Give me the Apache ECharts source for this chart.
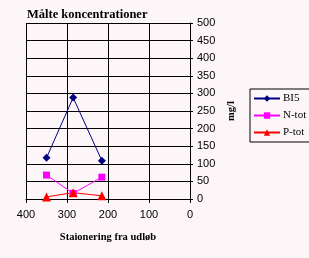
<!DOCTYPE html>
<html>
<head>
<meta charset="utf-8">
<script src="https://cdn.jsdelivr.net/npm/echarts@6/dist/echarts.min.js"></script>
<style>
  html, body { margin: 0; padding: 0; background: #fdf6f8; }
  #main { width: 309px; height: 258px; }
</style>
</head>
<body>
<div id="main"></div>
<script>
// stationering (m fra udløb) og målte værdier
var stations = [350, 285, 215];
var bi5 = [117, 288, 109];
var ntot = [68, 16, 62];
var ptot = [6, 18, 9];

function pairs(ys) {
    return stations.map(function (x, i) { return [x, ys[i]]; });
}

var myChart = echarts.init(document.getElementById('main'));

var option = {
    backgroundColor: '#fdf6f8',
    animation: false,
    title: {
        text: 'Målte koncentrationer',
        left: 22,
        top: 3,
        textStyle: {
            fontFamily: 'Liberation Serif',
            fontSize: 12.5,
            fontWeight: 'bold',
            color: '#000'
        }
    },
    grid: {
        left: 26,
        right: 119,
        top: 23,
        bottom: 59
    },
    legend: {
        orient: 'vertical',
        left: 250,
        top: 89,
        padding: [4, 20, 4, 3],
        itemGap: 6,
        itemWidth: 26,
        itemHeight: 8,
        borderColor: '#000',
        borderWidth: 1,
        borderRadius: 0,
        textStyle: {
            fontFamily: 'Liberation Serif',
            fontSize: 11,
            color: '#000',
            padding: [0, 0, 0, -2]
        },
        data: ['BI5', 'N-tot', 'P-tot']
    },
    xAxis: {
        type: 'value',
        min: 0,
        max: 400,
        interval: 100,
        inverse: true,
        name: 'Staionering fra udløb',
        nameLocation: 'middle',
        nameGap: 33,
        nameTextStyle: {
            fontFamily: 'Liberation Serif',
            fontSize: 10.5,
            fontWeight: 'bold',
            color: '#000'
        },
        axisLine: { lineStyle: { color: '#000', width: 1 } },
        axisTick: { show: true, length: 4, lineStyle: { color: '#000' } },
        axisLabel: {
            fontFamily: 'Liberation Sans',
            fontSize: 11,
            color: '#000',
            margin: 10
        },
        splitLine: { show: true, lineStyle: { color: '#000', width: 1 } }
    },
    yAxis: {
        type: 'value',
        position: 'right',
        min: 0,
        max: 500,
        interval: 50,
        name: 'mg/l',
        nameLocation: 'middle',
        nameRotate: 90,
        nameGap: 32,
        nameTextStyle: {
            fontFamily: 'Liberation Serif',
            fontSize: 10.5,
            fontWeight: 'bold',
            color: '#000',
            padding: [0, 0, 10, 0]
        },
        axisLine: { show: true, lineStyle: { color: '#000', width: 1 } },
        axisTick: { show: true, length: 3, lineStyle: { color: '#000' } },
        axisLabel: {
            fontFamily: 'Liberation Sans',
            fontSize: 11,
            color: '#000',
            margin: 7
        },
        splitLine: { show: true, lineStyle: { color: '#000', width: 1 } }
    },
    series: [
        {
            name: 'BI5',
            type: 'line',
            data: pairs(bi5),
            symbol: 'diamond',
            symbolSize: 8,
            color: '#000080',
            lineStyle: { width: 1, color: '#000080' },
            itemStyle: { color: '#000080' }
        },
        {
            name: 'N-tot',
            type: 'line',
            data: pairs(ntot),
            symbol: 'rect',
            symbolSize: 7,
            color: '#ff00ff',
            lineStyle: { width: 1, color: '#ff00ff' },
            itemStyle: { color: '#ff00ff' }
        },
        {
            name: 'P-tot',
            type: 'line',
            data: pairs(ptot),
            symbol: 'triangle',
            symbolSize: 9,
            color: '#ff0000',
            lineStyle: { width: 1, color: '#ff0000' },
            itemStyle: { color: '#ff0000' }
        }
    ]
};

myChart.setOption(option);
</script>
</body>
</html>
